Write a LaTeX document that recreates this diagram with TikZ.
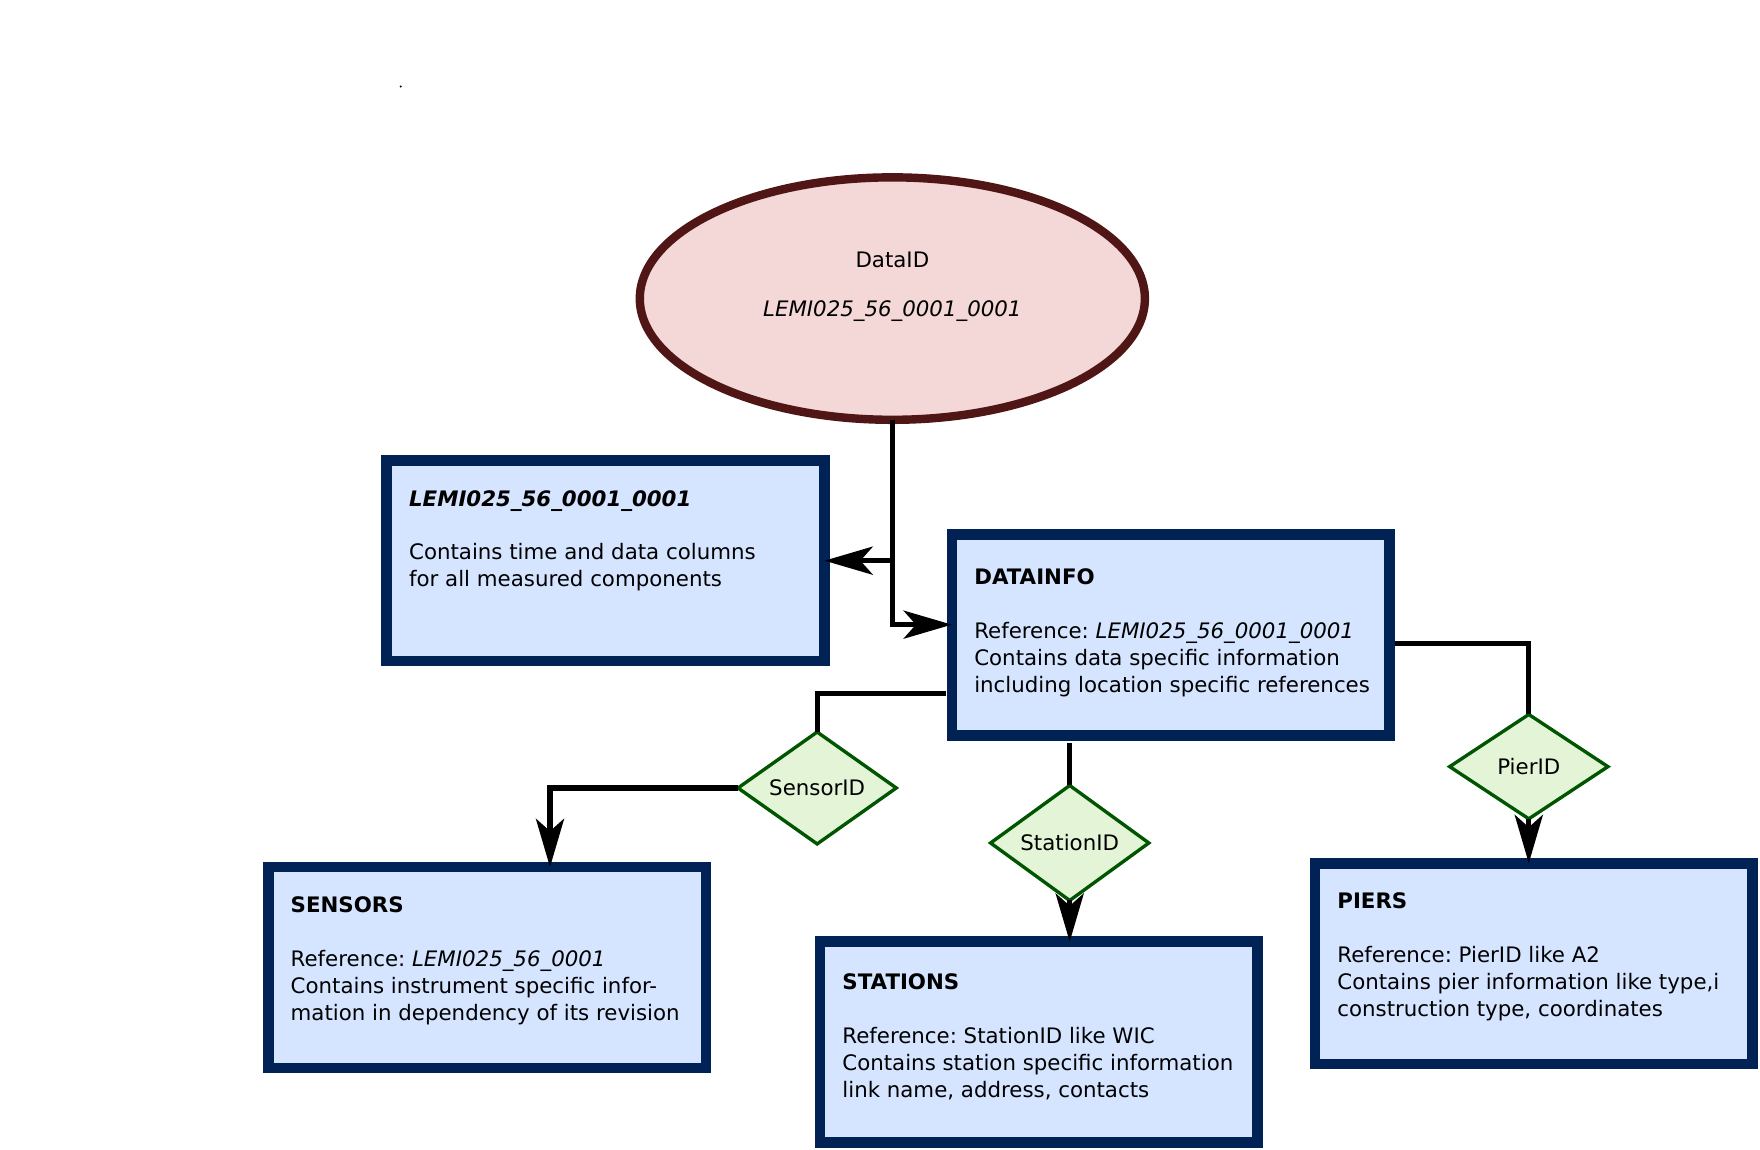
\documentclass[tikz,border=0pt]{standalone}
\usepackage{fontspec}
\setmainfont{DejaVu Sans}
\usepackage{tikz}
\usetikzlibrary{positioning, shapes.geometric, arrows.meta}
\usepackage{color}

\definecolor{tablefill}{HTML}{D5E5FF}
\definecolor{tableline}{HTML}{002255}
\definecolor{idfill}{HTML}{F4D7D7}
\definecolor{idline}{HTML}{501616}
\definecolor{keyfill}{HTML}{E3F4D7}
\definecolor{keyline}{HTML}{005500}

\frenchspacing
\newcommand{\tabletext}[2][0pt]{\parbox[c][65.5pt][t]{175pt}{\vspace*{#1}\begin{tabular}{@{}l@{}}#2\end{tabular}}}

\begin{document}
\begin{tikzpicture}[x=0.5pt, y=-0.5pt, node distance=10pt,
  every node/.style={font=\fontsize{9.5}{12}\selectfont},
  tablebox/.style={draw=tableline, fill=tablefill, line width=4.75pt, inner xsep=10pt, inner ysep=12pt, outer sep=0pt, minimum width=195pt, minimum height=89.5pt},
  keybox/.style={draw=keyline, fill=keyfill, diamond, line width=1.5pt, inner sep=0pt, outer sep=0pt, minimum width=70.5pt, minimum height=46.5pt},
  wire/.style={line width=2.25pt},
  >={Stealth[length=21.5pt, width=12.5pt, inset=5.5pt]}]
  \useasboundingbox (0,0) rectangle (1568,1024);
  \fill (357,77) circle[radius=1];

  \node[draw=idline, fill=idfill, ellipse, line width=3.75pt, inner sep=0pt, outer sep=0pt, minimum width=225pt, minimum height=108pt, align=center] (dataid) at (795,266) {DataID\\[10pt]\textit{LEMI025\_56\_0001\_0001}\\[1pt]\mbox{}};
  \node[tablebox] (lemi) at (539.5,499.5) {\tabletext{\textbf{\textit{LEMI025\_56\_0001\_0001}}\\[12pt] Contains time and data columns\\ for all measured components}};
  \node[tablebox] (datainfo) at (1043,565.5) {\tabletext[2pt]{\textbf{DATAINFO}\\[12pt] Reference: \textit{LEMI025\_56\_0001\_0001}\\ Contains data specific information\\ including location specific references}};
  \node[keybox] (sensorid) at (728,702) {SensorID};
  \node[keybox] (stationid) at (953,751) {StationID};
  \node[keybox] (pierid) at (1362,683) {PierID};
  \node[tablebox] (sensors) at (434,862) {\tabletext{\textbf{SENSORS}\\[12pt] Reference: \textit{LEMI025\_56\_0001}\\ Contains instrument specific infor-\\ mation in dependency of its revision}};
  \node[tablebox] (stations) at (925.5,928.5) {\tabletext[1pt]{\textbf{STATIONS}\\[12pt] Reference: StationID like WIC\\ Contains station specific information\\ link name, address, contacts}};
  \node[tablebox] (piers) at (1366.5,858.5) {\tabletext{\textbf{PIERS}\\[12pt] Reference: PierID like A2\\ Contains pier information like type,i\\ construction type, coordinates}};

  \draw[wire, ->] (dataid.south) |- (lemi.east);
  \draw[wire, ->] (dataid.south) |- ([yshift=4.5pt]datainfo.west);
  \draw[wire] ([xshift=-2.5pt, yshift=-26.25pt]datainfo.west) -| (sensorid.north);
  \draw[wire, ->] (sensorid.west) -| ([xshift=28pt]sensors.north);
  \draw[wire] ([xshift=-45pt, yshift=-3.5pt]datainfo.south) -- (stationid.north);
  \draw[wire, ->] (stationid.south) -- (stationid.south |- stations.north);
  \draw[wire] ([xshift=2.5pt, yshift=-3.75pt]datainfo.east) -| (pierid.north);
  \draw[wire, ->] (pierid.south) -- (pierid.south |- piers.north);
\end{tikzpicture}
\end{document}
